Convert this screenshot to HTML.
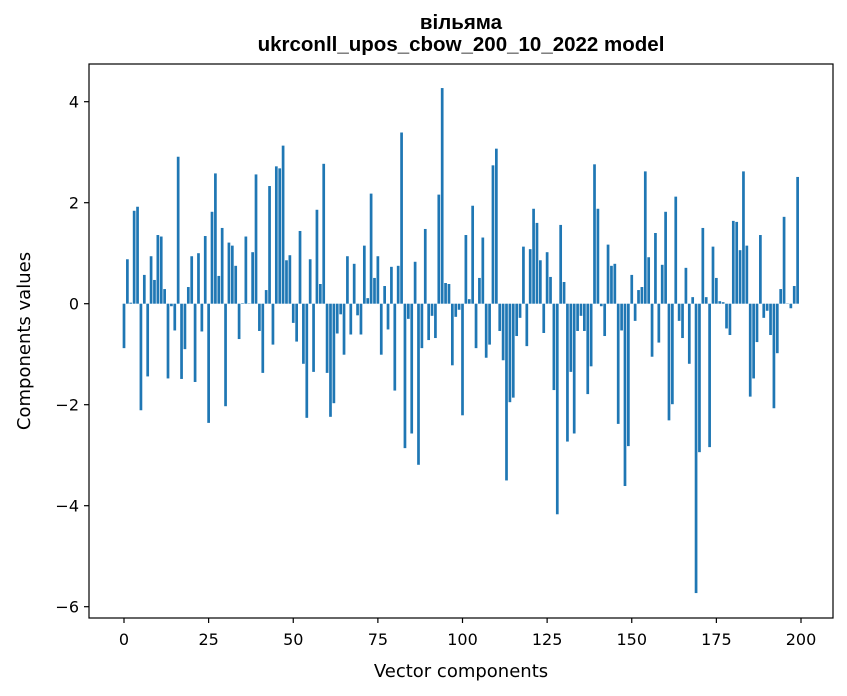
<!DOCTYPE html>
<html><head><meta charset="utf-8">
<style>
body{margin:0;background:#fff;}
svg{display:block;font-family:"DejaVu Sans","Liberation Sans",sans-serif;}
</style></head>
<body>
<svg id="chart" width="847" height="696" viewBox="0 0 847 696">
<rect width="847" height="696" fill="#fff"/>
<text x="461" y="29" text-anchor="middle" font-size="20.5" font-weight="bold" font-family="Liberation Sans, sans-serif">вільяма</text>
<text x="461" y="51" text-anchor="middle" font-size="20.5" font-weight="bold" font-family="Liberation Sans, sans-serif">ukrconll_upos_cbow_200_10_2022 model</text>
<g id="bars"></g>
<g id="xticks"></g>
<g id="yticks"></g>
<rect x="89" y="64" width="744" height="554" fill="none" stroke="#000" stroke-width="1.2"/>
<text x="461" y="677" text-anchor="middle" font-size="18">Vector components</text>
<text transform="translate(30,341) rotate(-90)" text-anchor="middle" font-size="18">Components values</text>
</svg>
<script>
const values = [-0.88,0.88,0.02,1.84,1.92,-2.11,0.57,-1.44,0.94,0.47,1.36,1.33,0.29,-1.48,-0.05,-0.53,2.91,-1.49,-0.90,0.33,0.94,-1.55,1.00,-0.55,1.34,
-2.36,1.82,2.58,0.55,1.50,-2.03,1.21,1.15,0.75,-0.70,0.01,1.33,0.0,1.02,2.56,-0.54,-1.37,0.27,2.33,-0.81,2.72,2.68,3.13,0.86,0.96,
-0.38,-0.75,1.44,-1.19,-2.26,0.88,-1.35,1.86,0.39,2.77,-1.37,-2.24,-1.97,-0.59,-0.21,-1.01,0.94,-0.61,0.79,-0.23,-0.61,1.15,0.11,2.18,0.51,
0.94,-1.01,0.35,-0.51,0.73,-1.72,0.75,3.39,-2.86,-0.30,-2.57,0.83,-3.19,-0.88,1.48,-0.72,-0.24,-0.68,2.16,4.27,0.41,0.39,-1.22,-0.26,-0.12,
-2.21,1.36,0.09,1.94,-0.88,0.51,1.31,-1.07,-0.81,2.74,3.07,-0.54,-1.12,-3.50,-1.95,-1.86,-0.64,-0.28,1.13,-0.84,1.08,1.88,1.60,0.86,-0.58,
1.02,0.53,-1.71,-4.17,1.56,0.43,-2.73,-1.35,-2.57,-0.54,-0.24,-0.54,-1.79,-1.24,2.76,1.88,-0.05,-0.64,1.17,0.75,0.79,-2.38,-0.53,-3.61,-2.82,
0.57,-0.34,0.27,0.33,2.62,0.92,-1.05,1.40,-0.77,0.77,1.82,-2.31,-1.99,2.12,-0.34,-0.68,0.71,-1.19,0.13,-5.73,-2.94,1.50,0.13,-2.84,
1.13,0.51,0.05,0.03,-0.49,-0.62,1.64,1.62,1.06,2.62,1.15,-1.84,-1.48,-0.76,1.36,-0.28,-0.14,-0.62,-2.07,-0.98,0.29,1.72,0.0,-0.09,0.35,2.51];
const xTickValues = [0,25,50,75,100,125,150,175,200];
const yTickValues = [-6,-4,-2,0,2,4];
const yTickLabels = ["\u22126","\u22124","\u22122","0","2","4"];

const NS="http://www.w3.org/2000/svg";
function xScale(i){return 124 + i*3.385;}
function yScale(v){return 303.7 - v*50.5;}
const barW = 0.8*3.385;
const gb=document.getElementById('bars');
values.forEach((v,i)=>{
  const r=document.createElementNS(NS,'rect');
  const y0=yScale(0), y1=yScale(v);
  r.setAttribute('x',(xScale(i)-barW/2).toFixed(2));
  r.setAttribute('y',Math.min(y0,y1).toFixed(2));
  r.setAttribute('width',barW.toFixed(2));
  r.setAttribute('height',Math.max(Math.abs(y1-y0),0.3).toFixed(2));
  r.setAttribute('fill','#1f77b4');
  
  
  gb.appendChild(r);
});
const gx=document.getElementById('xticks');
xTickValues.forEach(t=>{
  const x=xScale(t);
  const l=document.createElementNS(NS,'line');
  l.setAttribute('x1',x);l.setAttribute('x2',x);l.setAttribute('y1',618);l.setAttribute('y2',623);
  l.setAttribute('stroke','#000');l.setAttribute('stroke-width','1.2');
  
  
  gx.appendChild(l);
  const tx=document.createElementNS(NS,'text');
  tx.setAttribute('x',x);tx.setAttribute('y',645);tx.setAttribute('text-anchor','middle');tx.setAttribute('font-size','16');
  tx.textContent=String(t);
  
  
  gx.appendChild(tx);
});
const gy=document.getElementById('yticks');
yTickValues.forEach((t,k)=>{
  const y=yScale(t);
  const l=document.createElementNS(NS,'line');
  l.setAttribute('x1',84);l.setAttribute('x2',89);l.setAttribute('y1',y);l.setAttribute('y2',y);
  l.setAttribute('stroke','#000');l.setAttribute('stroke-width','1.2');
  
  
  gy.appendChild(l);
  const tx=document.createElementNS(NS,'text');
  tx.setAttribute('x',79);tx.setAttribute('y',y+6);tx.setAttribute('text-anchor','end');tx.setAttribute('font-size','16');
  tx.textContent=yTickLabels[k];
  
  
  gy.appendChild(tx);
});
</script>
</body></html>
